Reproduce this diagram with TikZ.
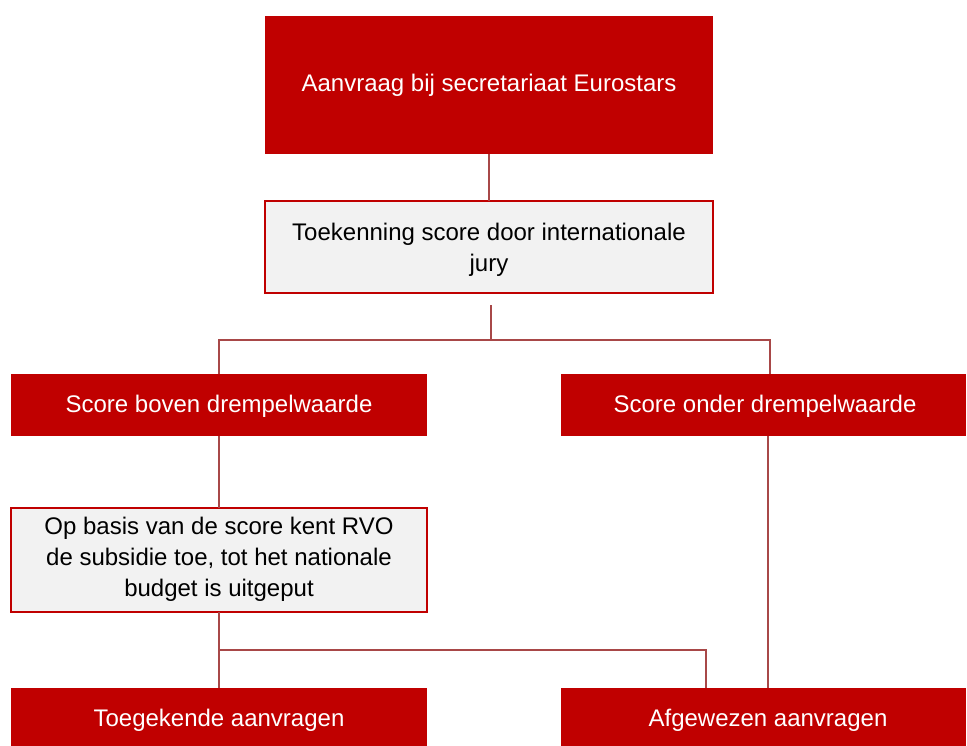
\documentclass[tikz,border=0pt]{standalone}
\usepackage{fontspec}
\setmainfont{Liberation Sans}
\definecolor{boxred}{HTML}{C00000}
\definecolor{boxgrey}{HTML}{F2F2F2}
\definecolor{linkred}{HTML}{A84848}
\begin{document}
\begin{tikzpicture}[x=1pt,y=-1pt,
  redbox/.style={draw=none,fill=boxred,text=white,inner sep=0pt,font=\fontsize{24}{31}\selectfont,align=center},
  greybox/.style={draw=boxred,line width=2pt,fill=boxgrey},
  greytext/.style={text=black,inner sep=0pt,font=\fontsize{24}{31}\selectfont,align=center},
  link/.style={draw=linkred,line width=1.3pt}]
\useasboundingbox (0,0) rectangle (967,745);
\path[redbox] (265,16) rectangle (713,154);
\node[redbox] (top) at (489,85) {Aanvraag bij secretariaat Eurostars};
\path[greybox] (265,201) rectangle (713,293);
\node[greytext] (jury) at (489,250) {Toekenning score door internationale\\jury};
\path[redbox] (11,374) rectangle (427,436);
\node[redbox] (boven) at (219,406) {Score boven drempelwaarde};
\path[redbox] (561,374) rectangle (966,436);
\node[redbox] (onder) at (765,406) {Score onder drempelwaarde};
\path[greybox] (11,508) rectangle (427,612);
\node[greytext] (basis) at (219,559) {Op basis van de score kent RVO\\de subsidie toe, tot het nationale\\budget is uitgeput};
\path[redbox] (11,688) rectangle (427,750);
\node[redbox] (toe) at (219,720) {Toegekende aanvragen};
\path[redbox] (561,688) rectangle (966,750);
\node[redbox] (afg) at (768,720) {Afgewezen aanvragen};
% coordinates
\coordinate (topb) at (489,154);
\coordinate (juryt) at (489,201);
\coordinate (juryb) at (491,305);
\coordinate (split) at (491,340);
\coordinate (bovent) at (219,374);
\coordinate (ondert) at (770,374);
\coordinate (bovenb) at (219,436);
\coordinate (basist) at (219,508);
\coordinate (basisb) at (219,612);
\coordinate (toet) at (219,688);
\coordinate (join) at (219,650);
\coordinate (afgt) at (706,688);
\coordinate (onderb) at (768,436);
\coordinate (afgt2) at (768,688);
\draw[link] (topb) -- (juryt);
\draw[link] (juryb) -- (split);
\draw[link] (bovent) |- (split) -| (ondert);
\draw[link] (bovenb) -- (basist);
\draw[link] (basisb) -- (toet);
\draw[link] (join) -| (afgt);
\draw[link] (onderb) -- (afgt2);
\end{tikzpicture}
\end{document}
